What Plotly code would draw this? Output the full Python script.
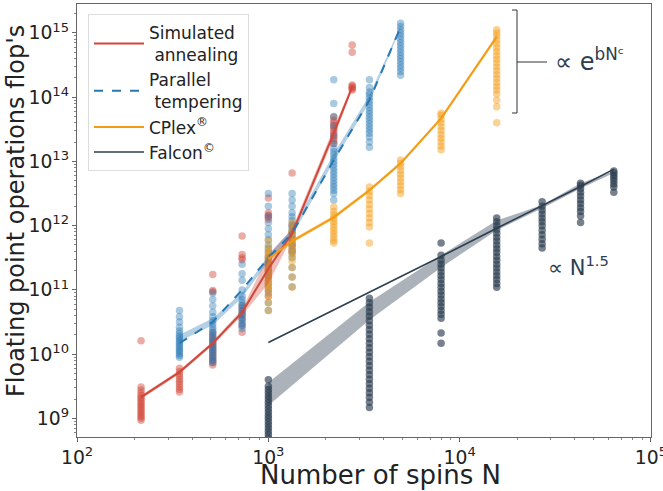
import plotly.graph_objects as go

# ---------------- data (log10 of flop counts) ----------------
sa_N = [216, 343, 512, 729, 1000, 1331, 2197, 2744]
sa_med = [9.33, 9.72, 10.17, 10.65, 11.33, 11.88, 13.44, 14.16]
sa_lo = [9.30, 9.69, 10.14, 10.60, 11.10, 11.82, 13.36, 14.12]
sa_hi = [9.36, 9.75, 10.20, 10.70, 11.55, 11.95, 13.52, 14.20]
sa_runs = [
    [8.97, 9.0, 9.03, 9.06, 9.09, 9.12, 9.15, 9.18, 9.21, 9.24, 9.27, 9.30, 9.33, 9.36, 9.40, 9.44, 9.49, 10.21],
    [9.41, 9.45, 9.49, 9.53, 9.57, 9.61, 9.65, 9.69, 9.73, 9.78],
    [9.83, 9.87, 9.91, 9.95, 9.99, 10.03, 10.07, 10.11, 10.15, 10.19, 10.23, 10.28, 10.33, 10.97, 10.99, 11.24],
    [10.34, 10.45, 10.55, 10.62, 10.68, 10.75, 11.47, 11.5, 11.55, 11.84],
    [10.9, 11.0, 11.1, 11.2, 11.3, 11.4, 11.5, 12.1, 12.13, 12.16, 12.2, 12.43],
    [11.6, 11.7, 11.8, 11.9, 12.0, 12.82],
    [13.28, 13.32, 13.36, 13.40, 13.44, 13.48, 13.52, 13.56, 13.60, 13.64, 13.69],
    [14.11, 14.13, 14.15, 14.17, 14.19, 14.70, 14.81],
]

pt_N = [343, 512, 729, 1000, 1331, 2197, 3375, 4913]
pt_med = [10.17, 10.50, 11.00, 11.50, 11.88, 13.02, 13.95, 15.09]
pt_lo = [10.20, 10.45, 10.88, 11.44, 11.84, 13.00, 13.92, 15.07]
pt_hi = [10.30, 10.56, 10.96, 11.54, 11.95, 13.12, 14.03, 15.11]
pt_runs = [
    [9.95, 9.98, 10.01, 10.04, 10.07, 10.10, 10.13, 10.16, 10.19, 10.22, 10.25, 10.28, 10.32, 10.36, 10.42, 10.5, 10.58, 10.68],
    [9.87, 9.9, 9.94, 9.98, 10.02, 10.06, 10.1, 10.14, 10.18, 10.22, 10.26, 10.3, 10.34, 10.38, 10.42, 10.47, 10.52, 10.58, 10.65, 10.75, 10.85, 10.95],
    [10.40, 10.44, 10.48, 10.52, 10.56, 10.60, 10.64, 10.68, 10.72, 10.76, 10.80, 10.85, 10.9, 11.0, 11.15, 11.25, 11.4],
    [10.68, 10.8, 10.95, 11.05, 11.15, 11.22, 11.28, 11.34, 11.4, 11.46, 11.52, 11.58, 11.64, 11.7, 11.78, 11.86, 11.95, 12.05, 12.15, 12.3, 12.5],
    [11.05, 11.2, 11.35, 11.5, 11.57, 11.62, 11.67, 11.72, 11.77, 11.82, 11.87, 11.92, 11.97, 12.02, 12.08, 12.14, 12.2, 12.3, 12.4, 12.5],
    [12.4, 12.5, 12.55, 12.6, 12.65, 12.7, 12.75, 12.8, 12.85, 12.9, 12.95, 13.0, 13.05, 13.1, 13.15, 13.2, 13.28, 13.4, 13.55, 13.7, 13.9, 14.27],
    [13.22, 13.3, 13.38, 13.44, 13.49, 13.54, 13.59, 13.64, 13.69, 13.74, 13.79, 13.84, 13.89, 13.94, 13.99, 14.04, 14.08, 14.15, 14.27],
    [14.34, 14.4, 14.45, 14.5, 14.55, 14.6, 14.65, 14.7, 14.75, 14.8, 14.85, 14.9, 14.95, 15.0, 15.05, 15.1, 15.15],
]

cp_N = [1000, 1331, 2197, 3375, 4913, 8000, 15625]
cp_med = [11.48, 11.76, 12.13, 12.55, 12.97, 13.67, 14.94]
cp_lo = [11.45, 11.73, 12.10, 12.52, 12.94, 13.64, 14.90]
cp_hi = [11.51, 11.79, 12.16, 12.58, 13.00, 13.70, 14.98]
cp_runs = [
    [10.68, 10.8, 10.9, 11.0, 11.05, 11.1, 11.15, 11.2, 11.25, 11.3, 11.35, 11.4, 11.45, 11.5, 11.55, 11.6, 11.66, 11.77],
    [11.04, 11.2, 11.35, 11.45, 11.52, 11.58, 11.64, 11.7, 11.76, 11.82, 11.88, 11.94, 12.04],
    [11.73, 11.77, 11.82, 11.87, 11.92, 11.97, 12.02, 12.07, 12.12, 12.17, 12.22, 12.29],
    [11.73, 11.98, 12.05, 12.12, 12.19, 12.26, 12.33, 12.4, 12.47, 12.53, 12.6],
    [12.5, 12.56, 12.62, 12.68, 12.74, 12.8, 12.86, 12.92, 12.97, 13.02],
    [13.18, 13.24, 13.3, 13.36, 13.42, 13.48, 13.54, 13.6, 13.66, 13.72, 13.75],
    [13.6, 13.85, 13.95, 14.05, 14.11, 14.17, 14.23, 14.29, 14.35, 14.41, 14.47, 14.53, 14.59, 14.65, 14.71, 14.77, 14.83, 14.89, 14.95, 15.0, 15.05],
]

fa_N = [1000, 3375, 8000, 15625, 27000, 42875, 64000]
fa_fit = [10.18, 10.96, 11.52, 11.96, 12.31, 12.61, 12.88]
fa_lo = [9.20, 10.53, 11.35, 11.93, 12.27, 12.58, 12.82]
fa_hi = [9.56, 10.81, 11.54, 12.08, 12.32, 12.66, 12.85]
fa_runs = [
    [8.5, 8.55, 8.6, 8.65, 8.7, 8.75, 8.8, 8.85, 8.9, 8.95, 9.0, 9.05, 9.1, 9.15, 9.2, 9.25, 9.3, 9.35, 9.4, 9.45, 9.5, 9.6],
    [9.17, 9.25, 9.33, 9.4, 9.47, 9.54, 9.61, 9.68, 9.75, 9.82, 9.89, 9.96, 10.03, 10.1, 10.17, 10.24, 10.31, 10.38, 10.45, 10.52, 10.59, 10.66, 10.73, 10.8, 10.87],
    [10.17, 10.33, 10.56, 10.62, 10.68, 10.74, 10.8, 10.86, 10.92, 10.98, 11.04, 11.1, 11.16, 11.22, 11.28, 11.34, 11.4, 11.46, 11.54, 11.73],
    [11.04, 11.1, 11.16, 11.22, 11.28, 11.34, 11.4, 11.46, 11.52, 11.58, 11.64, 11.7, 11.76, 11.82, 11.88, 11.94, 12.0, 12.06, 12.12],
    [11.65, 11.72, 11.79, 11.86, 11.93, 12.0, 12.06, 12.12, 12.18, 12.24, 12.3, 12.37],
    [12.05, 12.15, 12.22, 12.28, 12.34, 12.4, 12.46, 12.52, 12.58, 12.63, 12.66],
    [12.52, 12.6, 12.65, 12.7, 12.74, 12.78, 12.82, 12.85],
]

labels = ["Simulated<br> annealing", "Parallel<br> tempering", "CPlex<sup>®</sup>", "Falcon<sup>©</sup>"]
x_title = "Number of spins N"
y_title = "Floating point operations flop's"

RED, BLUE, ORANGE, DARK = "#d2473a", "#2878b4", "#f39c12", "#2c3e50"
BAND = {RED: "rgba(210,71,58,0.35)", BLUE: "rgba(40,120,180,0.35)",
        ORANGE: "rgba(243,156,18,0.35)", DARK: "rgba(44,62,80,0.4)"}

def p(v):
    return [10 ** a for a in v]

fig = go.Figure()

series = [
    (sa_N, sa_runs, RED, 0.45),
    (pt_N, pt_runs, BLUE, 0.4),
    (cp_N, cp_runs, ORANGE, 0.45),
    (fa_N, fa_runs, DARK, 0.65),
]
for Ns, runs, col, op in series:
    xs, ys = [], []
    for n, r in zip(Ns, runs):
        xs += [n] * len(r)
        ys += r
    fig.add_trace(go.Scatter(x=xs, y=p(ys), mode="markers", showlegend=False,
                             marker=dict(size=7.5, color=col, opacity=op, line=dict(width=0)),
                             hoverinfo="skip"))

bands = [(sa_N, sa_lo, sa_hi, RED), (pt_N, pt_lo, pt_hi, BLUE),
         (cp_N, cp_lo, cp_hi, ORANGE), (fa_N, fa_lo, fa_hi, DARK)]
for Ns, lo, hi, col in bands:
    fig.add_trace(go.Scatter(x=Ns + Ns[::-1], y=p(hi + lo[::-1]), fill="toself",
                             fillcolor=BAND[col], line=dict(width=0), mode="lines",
                             showlegend=False, hoverinfo="skip"))

lines = [(sa_N, sa_med, RED, "solid", 2, labels[0]),
         (pt_N, pt_med, BLUE, "dash", 2, labels[1]),
         (cp_N, cp_med, ORANGE, "solid", 2, labels[2]),
         (fa_N, fa_fit, DARK, "solid", 1.6, labels[3])]
for Ns, med, col, dash, w, name in lines:
    fig.add_trace(go.Scatter(x=Ns, y=p(med), mode="lines", name=name,
                             line=dict(color=col, width=w, dash=dash)))

W, H = 663, 491
L, R, T, B = 77, 12, 4, 54

def px(x):
    return (x - L) / (W - L - R)

def py(y):
    return (H - B - y) / (H - T - B)

shape_style = dict(type="line", xref="paper", yref="paper", line=dict(color="#333", width=1))
shapes = [
    dict(x0=px(517), x1=px(517), y0=py(10), y1=py(113), **shape_style),
    dict(x0=px(512), x1=px(517), y0=py(10), y1=py(10), **shape_style),
    dict(x0=px(512), x1=px(517), y0=py(113), y1=py(113), **shape_style),
    dict(x0=px(517), x1=px(547), y0=py(62), y1=py(62), **shape_style),
]

annotations = [
    dict(text="∝ e<sup>bNᶜ</sup>", x=px(553), y=py(60), xref="paper", yref="paper",
         xanchor="left", yanchor="middle", showarrow=False,
         font=dict(size=24, color="#2c3e50")),
    dict(text="∝ N<sup>1.5</sup>", x=px(546), y=py(266), xref="paper", yref="paper",
         xanchor="left", yanchor="middle", showarrow=False,
         font=dict(size=21, color="#2c3e50")),
    dict(text=x_title, x=px(380), y=py(475), xref="paper", yref="paper",
         xanchor="center", yanchor="middle", showarrow=False,
         font=dict(size=26, color="#222")),
    dict(text=y_title, x=px(16), y=py(211), xref="paper", yref="paper", textangle=-90,
         xanchor="center", yanchor="middle", showarrow=False,
         font=dict(size=24, color="#222")),
]

axis_common = dict(type="log", showline=True, linecolor="#666", linewidth=1, mirror=True,
                   ticks="outside", ticklen=4, tickcolor="#666", showgrid=False,
                   zeroline=False, exponentformat="power", dtick=1,
                   automargin=False,
                   tickfont=dict(size=15, color="#222"),
                   minor=dict(ticks="outside", ticklen=2, tickcolor="#888", showgrid=False))

fig.update_layout(
    width=W, height=H,
    margin=dict(l=L, r=R, t=T, b=B, autoexpand=False),
    paper_bgcolor="white", plot_bgcolor="white",
    font=dict(family="DejaVu Sans", color="#222"),
    xaxis=dict(range=[1.9995, 5.0005], ticklabeloverflow="allow", **axis_common),
    yaxis=dict(range=[8.71, 15.45], **axis_common),
    legend=dict(x=px(88), y=py(14), xanchor="left", yanchor="top",
                bgcolor="white", bordercolor="#ddd", borderwidth=1, itemwidth=50,
                font=dict(size=17, color="#222"), tracegroupgap=0),
    shapes=shapes, annotations=annotations,
)

fig.write_html("out.html")
